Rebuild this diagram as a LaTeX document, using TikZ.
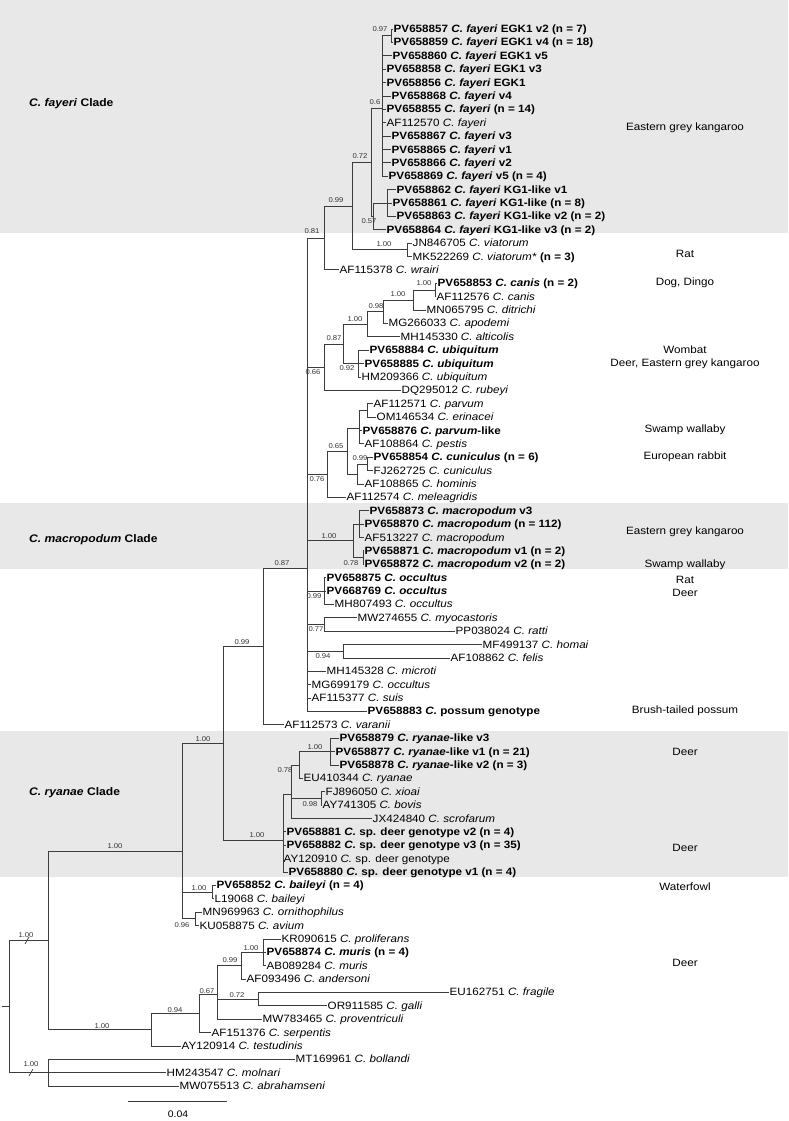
\documentclass[tikz,border=0pt]{standalone}
\usepackage{fontspec}
\setmainfont{Liberation Sans}[UprightFeatures={FakeStretch=1.1}, BoldFeatures={FakeStretch=1.1}, ItalicFeatures={FakeStretch=1.1}, BoldItalicFeatures={FakeStretch=1.1}]
\definecolor{band}{RGB}{232,232,232}
\definecolor{linec}{RGB}{60,60,60}
\newcommand\tbranch[2]{\foreach \c in {#2}{\draw[br] (#1) |- (\c);}}
\begin{document}
\begin{tikzpicture}[x=1pt,y=-1pt,
  declare function={ry(\i)=29+(\i-1)*13.38;},
  leaf/.style={anchor=west, inner xsep=1pt, inner ysep=0pt, font=\fontsize{10.6}{12}\selectfont, text height=7.6pt, text depth=0.4pt},
  nl/.style={leaf, font=\fontsize{10.6}{12}\selectfont\bfseries},
  lbl/.style={font=\fontsize{7}{8}\selectfont, inner sep=0pt, text=black!80},
  host/.style={font=\fontsize{10.6}{12}\selectfont, inner sep=0pt},
  clade/.style={font=\fontsize{11}{13}\selectfont\bfseries, anchor=west, inner sep=0pt},
  br/.style={draw=linec, line width=0.7pt}]
\useasboundingbox (0,0) rectangle (788,1121);
% bands
\fill[band] (0,0) rectangle (788,233);
\fill[band] (0,503) rectangle (788,569);
\fill[band] (0,731) rectangle (788,877);
\node[clade] (cf) at (29,104) {\textit{C. fayeri} Clade};
\node[clade] (cm) at (29,540) {\textit{C. macropodum} Clade};
\node[clade] (cr) at (29,793) {\textit{C. ryanae} Clade};
% leaves
\node[nl] (L1) at (392.5,{ry(1)}) {PV658857 \textit{C. fayeri} EGK1 v2 (n = 7)};
\node[nl] (L2) at (392.5,{ry(2)}) {PV658859 \textit{C. fayeri} EGK1 v4 (n = 18)};
\node[nl] (L3) at (391.5,{ry(3)}) {PV658860 \textit{C. fayeri} EGK1 v5};
\node[nl] (L4) at (385.5,{ry(4)}) {PV658858 \textit{C. fayeri} EGK1 v3};
\node[nl] (L5) at (385.5,{ry(5)}) {PV658856 \textit{C. fayeri} EGK1};
\node[nl] (L6) at (390.5,{ry(6)}) {PV658868 \textit{C. fayeri} v4};
\node[nl] (L7) at (385.5,{ry(7)}) {PV658855 \textit{C. fayeri} (n = 14)};
\node[leaf] (L8) at (385.5,{ry(8)}) {AF112570 \textit{C. fayeri}};
\node[nl] (L9) at (390.5,{ry(9)}) {PV658867 \textit{C. fayeri} v3};
\node[nl] (L10) at (390.5,{ry(10)}) {PV658865 \textit{C. fayeri} v1};
\node[nl] (L11) at (390.5,{ry(11)}) {PV658866 \textit{C. fayeri} v2};
\node[nl] (L12) at (387.5,{ry(12)}) {PV658869 \textit{C. fayeri} v5 (n = 4)};
\node[nl] (L13) at (395.5,{ry(13)}) {PV658862 \textit{C. fayeri} KG1-like v1};
\node[nl] (L14) at (391.5,{ry(14)}) {PV658861 \textit{C. fayeri} KG1-like (n = 8)};
\node[nl] (L15) at (395.5,{ry(15)}) {PV658863 \textit{C. fayeri} KG1-like v2 (n = 2)};
\node[nl] (L16) at (385.5,{ry(16)}) {PV658864 \textit{C. fayeri} KG1-like v3 (n = 2)};
\node[leaf] (L17) at (411.5,{ry(17)}) {JN846705 \textit{C. viatorum}};
\node[leaf] (L18) at (411.5,{ry(18)}) {MK522269 \textit{C. viatorum*} \textbf{(n = 3)}};
\node[leaf] (L19) at (338.5,{ry(19)}) {AF115378 \textit{C. wrairi}};
\node[nl] (L20) at (436.5,{ry(20)}) {PV658853 \textit{C. canis} (n = 2)};
\node[leaf] (L21) at (435.5,{ry(21)}) {AF112576 \textit{C. canis}};
\node[leaf] (L22) at (425.5,{ry(22)}) {MN065795 \textit{C. ditrichi}};
\node[leaf] (L23) at (387.5,{ry(23)}) {MG266033 \textit{C. apodemi}};
\node[leaf] (L24) at (399.5,{ry(24)}) {MH145330 \textit{C. alticolis}};
\node[nl] (L25) at (368.5,{ry(25)}) {PV658884 \textit{C. ubiquitum}};
\node[nl] (L26) at (363.5,{ry(26)}) {PV658885 \textit{C. ubiquitum}};
\node[leaf] (L27) at (360.5,{ry(27)}) {HM209366 \textit{C. ubiquitum}};
\node[leaf] (L28) at (400.5,{ry(28)}) {DQ295012 \textit{C. rubeyi}};
\node[leaf] (L29) at (372.5,{ry(29)}) {AF112571 \textit{C. parvum}};
\node[leaf] (L30) at (375.5,{ry(30)}) {OM146534 \textit{C. erinacei}};
\node[nl] (L31) at (361.5,{ry(31)}) {PV658876 \textit{C. parvum}-like};
\node[leaf] (L32) at (363.5,{ry(32)}) {AF108864 \textit{C. pestis}};
\node[nl] (L33) at (372.5,{ry(33)}) {PV658854 \textit{C. cuniculus} (n = 6)};
\node[leaf] (L34) at (372.5,{ry(34)}) {FJ262725 \textit{C. cuniculus}};
\node[leaf] (L35) at (363.5,{ry(35)}) {AF108865 \textit{C. hominis}};
\node[leaf] (L36) at (345.5,{ry(36)}) {AF112574 \textit{C. meleagridis}};
\node[nl] (L37) at (368.5,{ry(37)}) {PV658873 \textit{C. macropodum} v3};
\node[nl] (L38) at (363.5,{ry(38)}) {PV658870 \textit{C. macropodum} (n = 112)};
\node[leaf] (L39) at (363.5,{ry(39)}) {AF513227 \textit{C. macropodum}};
\node[nl] (L40) at (363.5,{ry(40)}) {PV658871 \textit{C. macropodum} v1 (n = 2)};
\node[nl] (L41) at (363.5,{ry(41)}) {PV658872 \textit{C. macropodum} v2 (n = 2)};
\node[nl] (L42) at (325.5,{ry(42)}) {PV658875 \textit{C. occultus}};
\node[nl] (L43) at (325.5,{ry(43)}) {PV668769 \textit{C. occultus}};
\node[leaf] (L44) at (333.5,{ry(44)}) {MH807493 \textit{C. occultus}};
\node[leaf] (L45) at (356.5,{ry(45)}) {MW274655 \textit{C. myocastoris}};
\node[leaf] (L46) at (454.5,{ry(46)}) {PP038024 \textit{C. ratti}};
\node[leaf] (L47) at (481.5,{ry(47)}) {MF499137 \textit{C. homai}};
\node[leaf] (L48) at (449.5,{ry(48)}) {AF108862 \textit{C. felis}};
\node[leaf] (L49) at (325.5,{ry(49)}) {MH145328 \textit{C. microti}};
\node[leaf] (L50) at (310.5,{ry(50)}) {MG699179 \textit{C. occultus}};
\node[leaf] (L51) at (310.5,{ry(51)}) {AF115377 \textit{C. suis}};
\node[nl] (L52) at (366.5,{ry(52)}) {PV658883 \textit{C.} possum genotype};
\node[leaf] (L53) at (283.5,{ry(53)}) {AF112573 \textit{C. varanii}};
\node[nl] (L54) at (338.5,{ry(54)}) {PV658879 \textit{C. ryanae}-like v3};
\node[nl] (L55) at (334.5,{ry(55)}) {PV658877 \textit{C. ryanae}-like v1 (n = 21)};
\node[nl] (L56) at (338.5,{ry(56)}) {PV658878 \textit{C. ryanae}-like v2 (n = 3)};
\node[leaf] (L57) at (302.5,{ry(57)}) {EU410344 \textit{C. ryanae}};
\node[leaf] (L58) at (324.5,{ry(58)}) {FJ896050 \textit{C. xioai}};
\node[leaf] (L59) at (321.5,{ry(59)}) {AY741305 \textit{C. bovis}};
\node[leaf] (L60) at (371.5,{ry(60)}) {JX424840 \textit{C. scrofarum}};
\node[nl] (L61) at (285.5,{ry(61)}) {PV658881 \textit{C.} sp. deer genotype v2 (n = 4)};
\node[nl] (L62) at (285.5,{ry(62)}) {PV658882 \textit{C.} sp. deer genotype v3 (n = 35)};
\node[leaf] (L63) at (282.5,{ry(63)}) {AY120910 \textit{C.} sp. deer genotype};
\node[nl] (L64) at (287.5,{ry(64)}) {PV658880 \textit{C.} sp. deer genotype v1 (n = 4)};
\node[nl] (L65) at (215.5,{ry(65)}) {PV658852 \textit{C. baileyi} (n = 4)};
\node[leaf] (L66) at (213.5,{ry(66)}) {L19068 \textit{C. baileyi}};
\node[leaf] (L67) at (201.5,{ry(67)}) {MN969963 \textit{C. ornithophilus}};
\node[leaf] (L68) at (198.5,{ry(68)}) {KU058875 \textit{C. avium}};
\node[leaf] (L69) at (280.5,{ry(69)}) {KR090615 \textit{C. proliferans}};
\node[nl] (L70) at (265.5,{ry(70)}) {PV658874 \textit{C. muris} (n = 4)};
\node[leaf] (L71) at (265.5,{ry(71)}) {AB089284 \textit{C. muris}};
\node[leaf] (L72) at (245.5,{ry(72)}) {AF093496 \textit{C. andersoni}};
\node[leaf] (L73) at (448.5,{ry(73)}) {EU162751 \textit{C. fragile}};
\node[leaf] (L74) at (326.5,{ry(74)}) {OR911585 \textit{C. galli}};
\node[leaf] (L75) at (261.5,{ry(75)}) {MW783465 \textit{C. proventriculi}};
\node[leaf] (L76) at (210.5,{ry(76)}) {AF151376 \textit{C. serpentis}};
\node[leaf] (L77) at (180.5,{ry(77)}) {AY120914 \textit{C. testudinis}};
\node[leaf] (L78) at (294.5,{ry(78)}) {MT169961 \textit{C. bollandi}};
\node[leaf] (L79) at (165.5,{ry(79)}) {HM243547 \textit{C. molnari}};
\node[leaf] (L80) at (178.5,{ry(80)}) {MW075513 \textit{C. abrahamseni}};
% internal nodes
\coordinate (n097) at (391,35.69);
\coordinate (n06) at (382,108.67);
\coordinate (nKG) at (387,202.94);
\coordinate (n057) at (373,216.32);
\coordinate (n072) at (371,162.5);
\coordinate (nvia) at (407,249.77);
\coordinate (n099a) at (352,206.1);
\coordinate (n081) at (324,238.0);
\coordinate (ncanis) at (435,289.91);
\coordinate (n100b) at (413,299.95);
\coordinate (n098) at (383,311.65);
\coordinate (n100c) at (367,324.2);
\coordinate (nubi) at (358,363.5);
\coordinate (n087b) at (343,343.85);
\coordinate (n066) at (324,367.05);
\coordinate (nparv) at (367,410.33);
\coordinate (nparvg) at (359,428.17);
\coordinate (ncun) at (367,463.85);
\coordinate (ncun2) at (357,473.89);
\coordinate (n065) at (347,451.03);
\coordinate (n076) at (327,474.17);
\coordinate (nmac) at (359,524.06);
\coordinate (n078m) at (363,557.51);
\coordinate (n100m) at (353,540.79);
\coordinate (nocc) at (324,590.96);
\coordinate (n077) at (324,624.41);
\coordinate (n094o) at (343,651.17);
\coordinate (n087) at (307,568.34);
\coordinate (n099c) at (263,646.55);
\coordinate (nrl) at (330,751.52);
\coordinate (n078r) at (299,764.9);
\coordinate (nbov) at (321,798.35);
\coordinate (nry2) at (291,793.89);
\coordinate (nry) at (283,840.27);
\coordinate (n100r) at (223,743.41);
\coordinate (nbai) at (212,892.01);
\coordinate (navi) at (195,918.77);
\coordinate (n182) at (182,851.4);
\coordinate (nmur) at (263,952.22);
\coordinate (n099m) at (241,965.6);
\coordinate (n072f) at (258,999.05);
\coordinate (n067) at (217,994.59);
\coordinate (n094m) at (199,1013.55);
\coordinate (n151) at (151,1029.7);
\coordinate (n048a) at (48,940.55);
\coordinate (nbol) at (48,1072.64);
\coordinate (root) at (9,1006.6);
\coordinate (rootstub) at (2,1006.6);
% branches
\tbranch{n097}{L1.west,L2.west}
\tbranch{n06}{n097,L3.west,L4.west,L5.west,L6.west,L7.west,L8.west,L9.west,L10.west,L11.west,L12.west}
\tbranch{nKG}{L13.west,L14.west,L15.west}
\tbranch{n057}{nKG,L16.west}
\tbranch{n072}{n06,n057}
\tbranch{nvia}{L17.west,L18.west}
\tbranch{n099a}{n072,nvia}
\tbranch{n081}{n099a,L19.west}
\tbranch{ncanis}{L20.west,L21.west}
\tbranch{n100b}{ncanis,L22.west}
\tbranch{n098}{n100b,L23.west}
\tbranch{n100c}{n098,L24.west}
\tbranch{nubi}{L25.west,L26.west,L27.west}
\tbranch{n087b}{n100c,nubi}
\tbranch{n066}{n087b,L28.west}
\tbranch{nparv}{L29.west,L30.west}
\tbranch{nparvg}{nparv,L31.west,L32.west}
\tbranch{ncun}{L33.west,L34.west}
\tbranch{ncun2}{ncun,L35.west}
\tbranch{n065}{nparvg,ncun2}
\tbranch{n076}{n065,L36.west}
\tbranch{nmac}{L37.west,L38.west,L39.west}
\tbranch{n078m}{L40.west,L41.west}
\tbranch{n100m}{nmac,n078m}
\tbranch{nocc}{L42.west,L43.west,L44.west}
\tbranch{n077}{L45.west,L46.west}
\tbranch{n094o}{L47.west,L48.west}
\tbranch{n087}{n081,n066,n076,n100m,nocc,n077,n094o,L49.west,L50.west,L51.west,L52.west}
\tbranch{n099c}{n087,L53.west}
\tbranch{nrl}{L54.west,L55.west,L56.west}
\tbranch{n078r}{nrl,L57.west}
\tbranch{nbov}{L58.west,L59.west}
\tbranch{nry2}{n078r,nbov,L60.west}
\tbranch{nry}{nry2,L61.west,L62.west,L63.west,L64.west}
\tbranch{n100r}{n099c,nry}
\tbranch{nbai}{L65.west,L66.west}
\tbranch{navi}{L67.west,L68.west}
\tbranch{n182}{n100r,nbai,navi}
\tbranch{nmur}{L69.west,L70.west,L71.west}
\tbranch{n099m}{nmur,L72.west}
\tbranch{n072f}{L73.west,L74.west}
\tbranch{n067}{n099m,n072f,L75.west}
\tbranch{n094m}{n067,L76.west}
\tbranch{n151}{n094m,L77.west}
\tbranch{n048a}{n182,n151}
\tbranch{nbol}{L78.west,L79.west,L80.west}
\tbranch{root}{n048a,nbol}
\draw[br] (rootstub) -- (root);
% break marks
\coordinate (bk1a) at (25,944); \coordinate (bk1b) at (29,937);
\coordinate (bk2a) at (29,1076); \coordinate (bk2b) at (33,1069);
\draw[br] (bk1a) -- (bk1b);
\draw[br] (bk2a) -- (bk2b);
% support labels
\node[lbl] (s1) at (380,29) {0.97};
\node[lbl] (s2) at (375,102) {0.6};
\node[lbl] (s3) at (360,156) {0.72};
\node[lbl] (s4) at (336,200) {0.99};
\node[lbl] (s5) at (369,221) {0.57};
\node[lbl] (s6) at (312,231) {0.81};
\node[lbl] (s7) at (384,244) {1.00};
\node[lbl] (s8) at (424,283) {1.00};
\node[lbl] (s9) at (398,294) {1.00};
\node[lbl] (s10) at (376,306) {0.98};
\node[lbl] (s11) at (355,319) {1.00};
\node[lbl] (s12) at (334,338) {0.87};
\node[lbl] (s13) at (347,368) {0.92};
\node[lbl] (s14) at (313,372) {0.66};
\node[lbl] (s15) at (336,446) {0.65};
\node[lbl] (s16) at (360,458) {0.99};
\node[lbl] (s17) at (317,479) {0.76};
\node[lbl] (s18) at (329,536) {1.00};
\node[lbl] (s19) at (351,563) {0.78};
\node[lbl] (s20) at (282,563) {0.87};
\node[lbl] (s21) at (314,596) {0.99};
\node[lbl] (s22) at (316,629) {0.77};
\node[lbl] (s23) at (323,656) {0.94};
\node[lbl] (s24) at (242,642) {0.99};
\node[lbl] (s25) at (203,739) {1.00};
\node[lbl] (s26) at (315,747) {1.00};
\node[lbl] (s27) at (285,770) {0.78};
\node[lbl] (s28) at (310,804) {0.98};
\node[lbl] (s29) at (257,835) {1.00};
\node[lbl] (s30) at (115,846) {1.00};
\node[lbl] (s31) at (199,888) {1.00};
\node[lbl] (s32) at (182,925) {0.96};
\node[lbl] (s33) at (26,935) {1.00};
\node[lbl] (s34) at (251,948) {1.00};
\node[lbl] (s35) at (230,960) {0.99};
\node[lbl] (s36) at (207,991) {0.67};
\node[lbl] (s37) at (237,995) {0.72};
\node[lbl] (s38) at (175,1010) {0.94};
\node[lbl] (s39) at (102,1026) {1.00};
\node[lbl] (s40) at (31,1064) {1.00};
% hosts
\node[host] (h1) at (685,128) {Eastern grey kangaroo};
\node[host] (h2) at (685,254) {Rat};
\node[host] (h3) at (685,283) {Dog, Dingo};
\node[host] (h4) at (685,350) {Wombat};
\node[host] (h5) at (685,364) {Deer, Eastern grey kangaroo};
\node[host] (h6) at (685,430) {Swamp wallaby};
\node[host] (h7) at (685,457) {European rabbit};
\node[host] (h8) at (685,532) {Eastern grey kangaroo};
\node[host] (h9) at (685,565) {Swamp wallaby};
\node[host] (h10) at (685,580) {Rat};
\node[host] (h11) at (685,593) {Deer};
\node[host] (h12) at (685,711) {Brush-tailed possum};
\node[host] (h13) at (685,752) {Deer};
\node[host] (h14) at (685,848) {Deer};
\node[host] (h15) at (685,887) {Waterfowl};
\node[host] (h16) at (685,963) {Deer};
% scale bar
\coordinate (sb1) at (128,1101);
\coordinate (sb2) at (227,1101);
\draw[br] (sb1) -- (sb2);
\node[host, font=\fontsize{9.5}{11}\selectfont] (sbl) at (178,1114) {0.04};
\end{tikzpicture}
\end{document}
